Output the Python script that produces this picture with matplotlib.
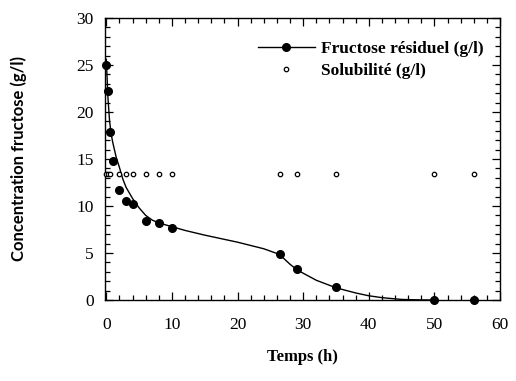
import matplotlib
matplotlib.use("Agg")
import matplotlib.pyplot as plt
from matplotlib.ticker import MultipleLocator

# Measured residual fructose (g/l)
t_meas = [0, 0.25, 0.5, 1, 2, 3, 4, 6, 8, 10, 26.4, 29, 35, 50, 56]
c_meas = [25.0, 22.2, 17.9, 14.8, 11.7, 10.5, 10.2, 8.4, 8.2, 7.7, 4.9, 3.3, 1.4, 0.0, 0.0]

# Fitted curve
t_fit = [0, 0.25, 0.5, 0.75, 1, 1.5, 2, 2.5, 3, 4, 5, 6, 7, 8, 10, 12, 15, 18, 20, 22, 24, 25, 26,
         27, 28, 29, 30, 32, 35, 38, 40, 42, 45, 48, 50]
c_fit = [25.6, 21.5, 19.0, 17.6, 16.7, 15.2, 14.1, 12.9, 12.0, 10.8, 9.8, 9.0, 8.5, 8.2, 7.8,
         7.4, 6.9, 6.45, 6.15, 5.8, 5.45, 5.2, 4.95, 4.45, 3.8, 3.25, 2.85, 2.1, 1.3, 0.75,
         0.45, 0.25, 0.06, 0.01, 0.0]

# Solubility (g/l)
t_sol = [0, 0.25, 0.6, 2, 3, 4, 6, 8, 10, 26.4, 29, 35, 50, 56]
c_sol = [13.45] * len(t_sol)

serif = "Liberation Serif"

fig = plt.figure(figsize=(5.16, 3.81), dpi=100)
ax = fig.add_axes([0.2035, 0.2126, 0.7655, 0.7402])

ax.plot(t_fit, c_fit, color="black", lw=1.0, zorder=2)
ax.plot(t_meas, c_meas, "o", color="black", ms=5.5, clip_on=False, zorder=3)
ax.plot(t_sol, c_sol, "o", mfc="white", mec="black", mew=0.9, ms=3.2,
        ls="none", clip_on=False, zorder=3)

# legend handles
h1, = ax.plot([], [], color="black", lw=1.0, marker="o", ms=5.5,
              label="Fructose résiduel (g/l)")
h2, = ax.plot([], [], "o", mfc="white", mec="black", mew=0.9, ms=3.2,
              ls="none", label="Solubilité (g/l)")
leg = ax.legend(handles=[h1, h2], loc="upper right", bbox_to_anchor=(0.985, 0.957),
                frameon=False, handlelength=3.3, handletextpad=0.35,
                labelspacing=0.35, borderaxespad=0.2,
                prop={"family": serif, "weight": "bold", "size": 12.5})

ax.set_xlim(-0.2, 60)
ax.set_ylim(0, 30)
ax.xaxis.set_major_locator(MultipleLocator(10))
ax.xaxis.set_minor_locator(MultipleLocator(2))
ax.yaxis.set_major_locator(MultipleLocator(5))
ax.yaxis.set_minor_locator(MultipleLocator(1))
ax.tick_params(which="both", direction="in", top=True, right=True, width=0.9)
ax.tick_params(which="major", length=6, labelsize=12.5)
ax.tick_params(axis="x", which="major", pad=12)
ax.tick_params(axis="y", which="major", pad=8)
ax.tick_params(which="minor", length=3.5)
for lab in ax.get_xticklabels() + ax.get_yticklabels():
    lab.set_fontfamily(serif)
for s in ax.spines.values():
    s.set_linewidth(1.0)

ax.set_xlabel("Temps (h)", family=serif, weight="bold", fontsize=12, labelpad=12)
ax.set_ylabel("Concentration fructose (g/l)", family="Lato", weight="bold",
              fontsize=12, labelpad=36)

fig.savefig("out.png", dpi=100)
